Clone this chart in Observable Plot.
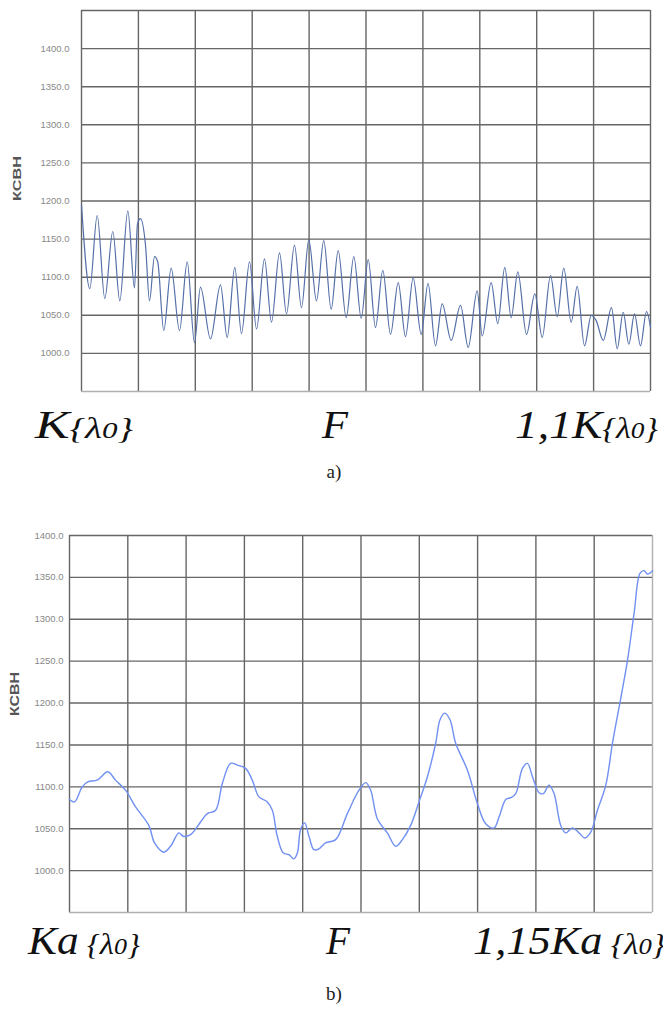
<!DOCTYPE html>
<html>
<head>
<meta charset="utf-8">
<script src="https://cdn.jsdelivr.net/npm/d3@7"></script>
<script src="https://cdn.jsdelivr.net/npm/@observablehq/plot@0.6"></script>
<style>
  html, body { margin: 0; padding: 0; background: #fff; }
  #page { position: relative; width: 663px; height: 1014px; overflow: hidden; }
  #chartA { position: absolute; left: 0; top: 0; }
  #chartB { position: absolute; left: 0; top: 500px; }
  #labels { position: absolute; left: 0; top: 0; pointer-events: none; }
</style>
</head>
<body>
<div id="page">
  <div id="chartA"></div>
  <div id="chartB"></div>
  <svg id="labels" width="663" height="1014"></svg>
</div>
<script>
// ---- Data: chart a) (x = position across band, 0..100 %) ----
const aX = [0, 1.46, 2.76, 4.09, 5.5, 6.73, 8.14, 9.31, 9.84, 10.37, 11.25, 11.95, 12.83, 13.4, 14.46, 15.76, 17.22, 18.58, 19.86,
  20.91, 22.67, 24.43, 25.6, 26.94, 28.12, 29.53, 30.76, 32.16, 33.39, 34.8, 36.03, 37.43, 38.66, 39.95, 41.3, 42.58, 43.88,
  45.11, 46.52, 47.86, 49.16, 50.39, 51.67, 52.95, 54.31, 55.66, 56.94, 58.29, 59.7, 60.9, 62.21, 63.39, 64.97, 66.61, 67.96,
  69.54, 70.42, 72.0, 73.16, 74.39, 75.52, 76.68, 78.21, 79.67, 80.97, 82.43, 83.6, 84.76, 86.06, 87.12, 88.4, 89.58, 90.46,
  91.69, 93.15, 94.15, 95.2, 96.19, 97.19, 98.24, 99.3, 100];
const aY = [1195, 1085, 1181, 1072, 1160, 1069, 1187, 1086, 1170, 1177, 1142, 1069, 1127, 1120, 1030, 1112, 1030, 1120, 1014,
  1087, 1019, 1090, 1021, 1113, 1026, 1120, 1032, 1124, 1041, 1132, 1052, 1142, 1060, 1149, 1069, 1148, 1058,
  1135, 1047, 1127, 1046, 1123, 1034, 1109, 1025, 1093, 1022, 1099, 1025, 1092, 1010, 1065, 1017, 1063, 1008,
  1082, 1023, 1093, 1039, 1113, 1047, 1107, 1025, 1078, 1021, 1102, 1048, 1112, 1041, 1088, 1010, 1050, 1043,
  1017, 1060, 1006, 1054, 1012, 1052, 1010, 1055, 1034];

// ---- Data: chart b) ----
const bX = [0, 0.86, 2.18, 3.14, 4.75, 6.57, 7.89, 9.61, 11.33, 13.61, 14.59, 16.18, 17.33, 18.76, 19.51, 20.77, 22.48, 23.63,
  25.06, 26.21, 27.63, 28.78, 30.2, 31.35, 32.49, 33.93, 34.79, 35.64, 36.67, 37.64, 38.49, 39.08, 39.64, 40.33, 41.07,
  41.93, 42.78, 43.93, 45.65, 47.66, 49.65, 50.8, 51.66, 52.8, 54.52, 55.95, 57.1, 58.52, 59.95, 61.39, 62.81, 63.55,
  64.36, 65.27, 66.24, 68.25, 69.97, 71.39, 72.82, 73.68, 74.83, 75.68, 76.54, 77.69, 78.55, 79.41, 80.54, 81.29,
  82.26, 83.11, 84.26, 85.12, 86.27, 87.4, 88.38, 89.41, 90.56, 91.99, 93.13, 94.56, 95.71, 96.84, 97.87, 98.56, 99.14, 100];
const bY = [1085, 1082, 1100, 1106, 1108, 1118, 1108, 1096, 1076, 1054, 1033, 1022, 1029, 1045, 1041, 1043, 1058, 1068,
  1072, 1104, 1128, 1126, 1122, 1108, 1088, 1082, 1072, 1041, 1021, 1019, 1014, 1021, 1049, 1057, 1041,
  1025, 1026, 1033, 1037, 1068, 1096, 1105, 1096, 1062, 1045, 1029, 1037, 1054, 1082, 1112, 1152, 1180,
  1188, 1180, 1152, 1120, 1080, 1056, 1051, 1064, 1085, 1087, 1092, 1122, 1128, 1112, 1093, 1092,
  1102, 1092, 1054, 1045, 1051, 1045, 1039, 1046, 1072, 1102, 1152, 1206, 1251, 1307, 1355, 1358, 1354, 1358];

// ---- Axes / grid values ----
const xGrid = [0, 10, 20, 30, 40, 50, 60, 70, 80, 90, 100];
const aGrid = [1000, 1050, 1100, 1150, 1200, 1250, 1300, 1350, 1400, 1450];
const aTicks = [1000, 1050, 1100, 1150, 1200, 1250, 1300, 1350, 1400];
const bGrid = [1000, 1050, 1100, 1150, 1200, 1250, 1300, 1350, 1400];
const bTicks = [1000, 1050, 1100, 1150, 1200, 1250, 1300, 1350, 1400];
const yTitle = "КСВН";

const dataA = aX.map((x, i) => ({x, y: aY[i]}));
const dataB = bX.map((x, i) => ({x, y: bY[i]}));
const grid = "#666";

const chartA = Plot.plot({
  width: 663, height: 400,
  marginTop: 10, marginBottom: 9, marginLeft: 81, marginRight: 13,
  style: {background: "#fff", fontFamily: "Liberation Sans, Arial, sans-serif"},
  x: {domain: [0, 100], axis: null},
  y: {domain: [950, 1450], axis: null},
  marks: [
    Plot.ruleY(aGrid, {stroke: grid, strokeWidth: 1.4}),
    Plot.ruleX(xGrid, {stroke: grid, strokeWidth: 1.4}),
    Plot.ruleY([950], {stroke: "#b0b0b0", strokeWidth: 1.4}),
    Plot.line(dataA, {x: "x", y: "y", stroke: "#5570a8", strokeWidth: 1.2, curve: "monotone-x"}),
    Plot.axisY({ticks: aTicks, label: null, tickSize: 0, tickPadding: 12, tickFormat: d => d.toFixed(1), fontSize: 9.5, fill: "#888", anchor: "left"}),
    Plot.text([yTitle], {frameAnchor: "left", dx: -64, rotate: -90, fontSize: 10, fontWeight: "bold", fill: "#555"})
  ]
});
document.getElementById("chartA").appendChild(chartA);

const chartB = Plot.plot({
  width: 663, height: 420,
  marginTop: 35, marginBottom: 8, marginLeft: 69, marginRight: 11,
  style: {background: "#fff", fontFamily: "Liberation Sans, Arial, sans-serif"},
  x: {domain: [0, 100], axis: null},
  y: {domain: [950, 1400], axis: null},
  marks: [
    Plot.ruleY(bGrid, {stroke: grid, strokeWidth: 1.4}),
    Plot.ruleX(xGrid.slice(0, -1), {stroke: grid, strokeWidth: 1.4}),
    Plot.ruleX([100], {stroke: "#b0b0b0", strokeWidth: 1.4}),
    Plot.ruleY([950], {stroke: "#b0b0b0", strokeWidth: 1.4}),
    Plot.line(dataB, {x: "x", y: "y", stroke: "#7090f2", strokeWidth: 1.4, curve: "catmull-rom"}),
    Plot.axisY({ticks: bTicks, label: null, tickSize: 0, tickPadding: 6, tickFormat: d => d.toFixed(1), fontSize: 9.5, fill: "#888", anchor: "left"}),
    Plot.text([yTitle], {frameAnchor: "left", dx: -55, dy: -8, rotate: -90, fontSize: 13, fontWeight: "bold", fill: "#555"})
  ]
});
document.getElementById("chartB").appendChild(chartB);

// stretch y titles like the scanned original
d3.select(chartA).selectAll("text").filter(function() { return this.textContent === yTitle; })
  .attr("textLength", 45).attr("lengthAdjust", "spacingAndGlyphs");
d3.select(chartB).selectAll("text").filter(function() { return this.textContent === yTitle; })
  .attr("textLength", 44).attr("lengthAdjust", "spacingAndGlyphs");

// ---- Axis end labels and captions ----
const L = d3.select("#labels");
function bandLabel(x, y, len, parts) {
  const t = L.append("text").attr("x", x).attr("y", y)
    .attr("font-family", "Liberation Serif, Times New Roman, serif").attr("font-style", "italic").attr("fill", "#111")
    .attr("textLength", len).attr("lengthAdjust", "spacingAndGlyphs");
  parts.forEach(([s, size]) => t.append("tspan").attr("font-size", size).text(s));
}
bandLabel(35, 438, 98, [["K", 40], ["{λ", 30], ["0", 24], ["}", 30]]);
bandLabel(322, 438, 26, [["F", 40]]);
bandLabel(515, 438, 143, [["1,1K", 40], ["{λ", 30], ["0", 24], ["}", 30]]);
bandLabel(28, 954, 112, [["Ka", 40], [" {λ", 30], ["0", 24], ["}", 30]]);
bandLabel(326, 954, 24, [["F", 40]]);
bandLabel(473, 954, 192, [["1,15Ka", 40], [" {λ", 30], ["0", 24], ["}", 30]]);

L.append("text").attr("x", 334).attr("y", 478).attr("text-anchor", "middle")
  .attr("font-family", "Liberation Serif, Times New Roman, serif").attr("font-size", 19).attr("fill", "#222").text("a)");
L.append("text").attr("x", 334).attr("y", 1000).attr("text-anchor", "middle")
  .attr("font-family", "Liberation Serif, Times New Roman, serif").attr("font-size", 19).attr("fill", "#222").text("b)");
</script>
</body>
</html>
